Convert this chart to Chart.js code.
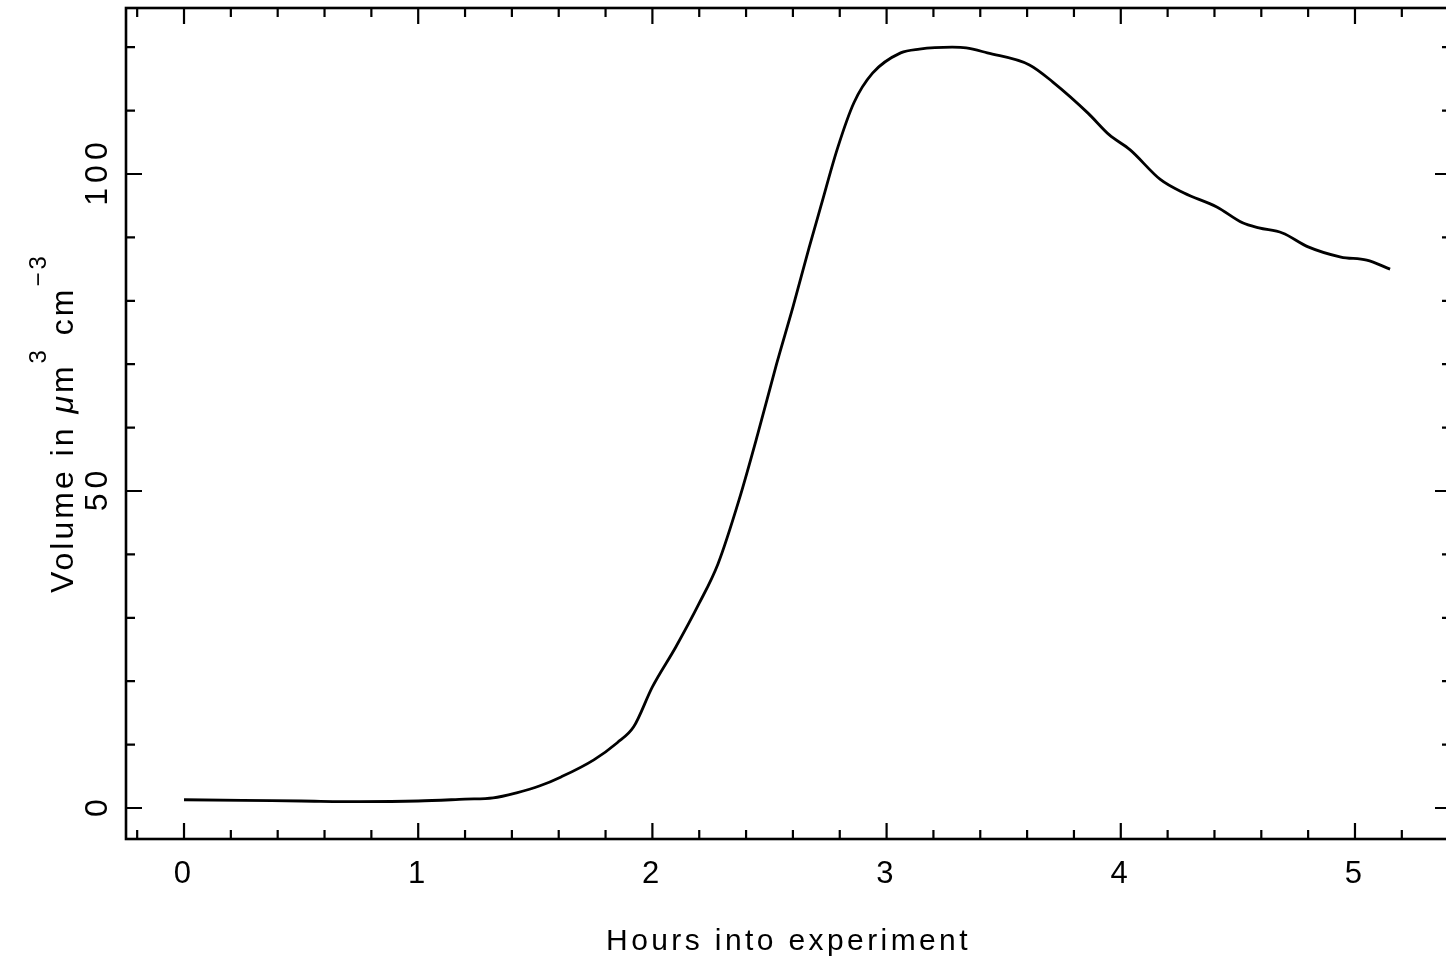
<!DOCTYPE html>
<html>
<head>
<meta charset="utf-8">
<script src="https://cdn.jsdelivr.net/npm/chart.js@4.4.1/dist/chart.umd.min.js"></script>
<style>
  html, body { margin: 0; padding: 0; background: #fff; overflow: hidden; }
  canvas { display: block; }
</style>
</head>
<body>
<canvas id="chart" width="1452" height="963"></canvas>
<script>
// values
const hours = [0, 0.25, 0.5, 0.75, 1.0, 1.2, 1.32, 1.42, 1.52, 1.61, 1.75, 1.85, 1.92, 2.0,
  2.10, 2.20, 2.28, 2.37, 2.45, 2.53, 2.60, 2.67, 2.72, 2.79, 2.86, 2.94, 3.06, 3.14,
  3.28, 3.34, 3.43, 3.61, 3.71, 3.86, 3.95, 4.04, 4.17, 4.27, 4.41, 4.52, 4.59, 4.69,
  4.80, 4.94, 5.05, 5.15];
const volume = [1.3, 1.2, 1.1, 1.0, 1.1, 1.4, 1.6, 2.4, 3.5, 4.9, 7.6, 10.3, 12.8, 19.1,
  25.4, 32.3, 38.5, 48.6, 59.0, 70.0, 79.0, 88.5, 95.0, 104.0, 111.2, 115.9, 119.1, 119.7,
  120.0, 119.9, 119.1, 117.2, 114.5, 109.6, 106.2, 103.8, 99.1, 97.0, 94.8, 92.3, 91.5, 90.7,
  88.5, 86.9, 86.4, 85.0];

const xTicks = [0, 1, 2, 3, 4, 5];
const yTicks = [0, 50, 100];
const xTitle = 'Hours into experiment';

const FONT = '"Liberation Sans", Arial, Helvetica, sans-serif';

// PGPLOT style box: frame plus inward ticks on all four sides
const boxPlugin = {
    id: 'box',
    beforeDraw(chart) {
        chart.ctx.letterSpacing = '3.4px';
    },
    afterDatasetsDraw(chart) {
        const { ctx, chartArea: a, scales: { x, y } } = chart;
        ctx.save();
        ctx.strokeStyle = '#000';
        ctx.lineWidth = 2.6;
        ctx.strokeRect(a.left, a.top, a.right - a.left, a.bottom - a.top);

        ctx.lineWidth = 2.2;
        ctx.beginPath();
        for (let i = -1; i <= 27; i++) {
            const px = x.getPixelForValue(i / 5);
            if (px <= a.left + 2 || px >= a.right - 2) continue;
            const len = i % 5 === 0 ? 16 : 9;
            ctx.moveTo(px, a.bottom); ctx.lineTo(px, a.bottom - len);
            ctx.moveTo(px, a.top); ctx.lineTo(px, a.top + len);
        }
        for (let v = 0; v <= 120; v += 10) {
            const py = y.getPixelForValue(v);
            const len = v % 50 === 0 ? 16 : 9;
            ctx.moveTo(a.left, py); ctx.lineTo(a.left + len, py);
            ctx.moveTo(a.right, py); ctx.lineTo(a.right - len, py);
        }
        ctx.stroke();

        // y tick labels, written sideways like the original
        ctx.fillStyle = '#000';
        ctx.textAlign = 'center';
        ctx.textBaseline = 'alphabetic';
        ctx.font = '32px ' + FONT;
        ctx.letterSpacing = '5px';
        yTicks.forEach(v => {
            ctx.save();
            ctx.translate(107, y.getPixelForValue(v));
            ctx.rotate(-Math.PI / 2);
            ctx.fillText(String(v), 2.5, 0);
            ctx.restore();
        });

        // y axis title with italic mu and superscripts
        const parts = [
            { text: 'Volume in ', italic: false, sup: false },
            { text: 'μ', italic: true, sup: false },
            { text: 'm', italic: false, sup: false },
            { text: '3', italic: false, sup: true },
            { text: ' cm', italic: false, sup: false },
            { text: '−3', italic: false, sup: true }
        ];
        ctx.save();
        ctx.translate(73, 593);
        ctx.rotate(-Math.PI / 2);
        ctx.textAlign = 'left';
        ctx.letterSpacing = '3px';
        let cx = 0;
        parts.forEach(p => {
            const size = p.sup ? 24 : 32;
            ctx.font = (p.italic ? 'italic ' : '') + size + 'px ' + FONT;
            ctx.fillText(p.text, cx, p.sup ? -27 : 0);
            cx += ctx.measureText(p.text).width;
        });
        ctx.restore();

        ctx.restore();
    }
};

const ctx = document.getElementById('chart').getContext('2d');

new Chart(ctx, {
    type: 'line',
    data: {
        datasets: [{
            data: hours.map((h, i) => ({ x: h, y: volume[i] })),
            borderColor: '#000',
            borderWidth: 2.8,
            pointRadius: 0,
            fill: false,
            cubicInterpolationMode: 'monotone'
        }]
    },
    options: {
        responsive: false,
        animation: false,
        devicePixelRatio: 1,
        layout: { padding: { left: 126, top: 8, right: 1, bottom: 0 } },
        plugins: { legend: { display: false }, tooltip: { enabled: false } },
        scales: {
            x: {
                type: 'linear',
                min: -0.2477,
                max: 5.410,
                afterBuildTicks: s => { s.ticks = xTicks.map(v => ({ value: v })); },
                afterFit: s => { s.height = 124; },
                grid: { display: false, drawTicks: false },
                border: { display: false },
                ticks: {
                    color: '#000',
                    font: { family: FONT, size: 31 },
                    padding: 17,
                    maxRotation: 0,
                    autoSkip: false
                },
                title: {
                    display: true,
                    text: xTitle,
                    color: '#000',
                    font: { family: FONT, size: 30 },
                    padding: { top: 0, bottom: 3 }
                }
            },
            y: {
                type: 'linear',
                display: false,
                min: -4.89,
                max: 126.18
            }
        }
    },
    plugins: [boxPlugin]
});
</script>
</body>
</html>
